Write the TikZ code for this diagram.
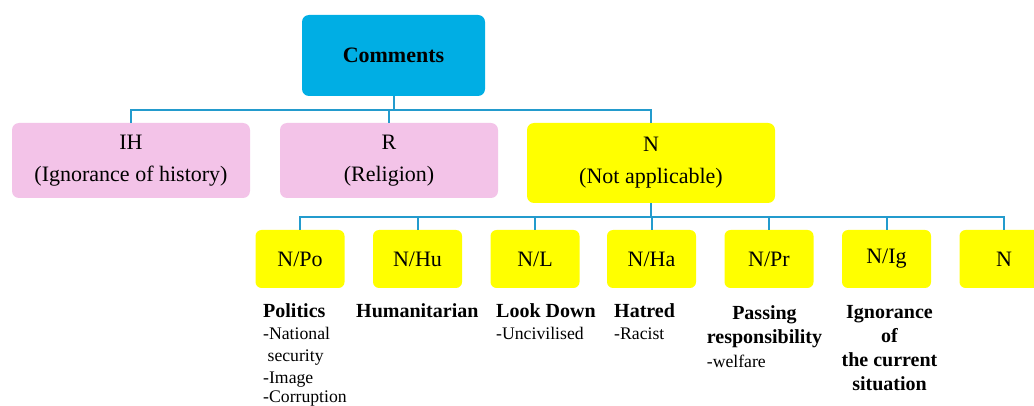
\documentclass[tikz,border=0pt]{standalone}
\usepackage{fontspec}
\setmainfont{Liberation Serif}
\usetikzlibrary{positioning}

\definecolor{topblue}{RGB}{0,174,228}
\definecolor{catpink}{RGB}{243,195,232}
\definecolor{catyellow}{RGB}{255,255,0}
\definecolor{linkblue}{RGB}{35,155,205}

\tikzset{
  box/.style={rounded corners=7pt, inner sep=0pt, align=center,
    font=\fontsize{22}{32}\selectfont},
  cat/.style={box, minimum height=75pt},
  sub/.style={box, fill=catyellow, minimum width=89pt, minimum height=58pt,
    rounded corners=6pt},
  link/.style={draw=linkblue, line width=2pt},
  note/.style={inner sep=0pt, anchor=north west, align=left,
    font=\fontsize{17.7}{22}\selectfont},
  head/.style={inner sep=0pt, anchor=north, align=center,
    font=\fontsize{20}{24}\selectfont\bfseries}
}

\begin{document}
\begin{tikzpicture}[x=1pt,y=-1pt]
\useasboundingbox (0,0) rectangle (1034,406);

% top level
\node[box, fill=topblue, minimum width=183pt, minimum height=81pt,
  font=\fontsize{22}{26}\selectfont\bfseries] (com) at (393.5,55.5) {Comments};

\node[cat, fill=catpink, minimum width=238pt] (ih) at (131,160.5) {IH\\(Ignorance of history)};
\node[cat, fill=catpink, minimum width=218pt] (rel) at (389,160.5) {R\\(Religion)};
\node[cat, fill=catyellow, minimum width=248pt, minimum height=80pt] (na) at (651,163) {N\\(Not applicable)};

\draw[link] (com.south) -- ++(0,13.5) coordinate (j1);
\draw[link] (ih.north) |- (j1);
\draw[link] (rel.north) |- (j1);
\draw[link] (na.north) |- (j1);

% second level
\node[sub] (po) at (300,259) {N/Po};
\node[sub] (hu) at (417.5,259) {N/Hu};
\node[sub] (lo) at (535,259) {N/L};
\node[sub] (ha) at (651.5,259) {N/Ha};
\node[sub] (pr) at (769,259) {N/Pr};
\node[sub] (ig) at (886.5,259) {N/Ig};
\node[sub] (nn) at (1004,259) {N};

\draw[link] (na.south) -- ++(0,14) coordinate (j2);
\foreach \k in {po,hu,lo,ha,pr,ig,nn}
  \draw[link] (\k.north) |- (j2);

% descriptions
\node[note] (po-t) at (263,303) {{\fontsize{20}{22}\selectfont\bfseries Politics}\\
  -National\\ \ security\\ -Image\\[-3pt] -Corruption};
\node[note] (hu-t) at (356,303) {{\fontsize{20}{22}\selectfont\bfseries Humanitarian}};
\node[note] (lo-t) at (496,303) {{\fontsize{20}{22}\selectfont\bfseries Look Down}\\ -Uncivilised};
\node[note] (ha-t) at (614,303) {{\fontsize{20}{22}\selectfont\bfseries Hatred}\\ -Racist};
\node[head] (pr-t) at (764.5,305) {Passing\\ responsibility\\
  {\mdseries\fontsize{17.7}{24}\selectfont\rlap{-welfare}}\phantom{responsibility}};
\node[head] (ig-t) at (889.5,305) {Ignorance\\ of\\ the current\\ situation};

\end{tikzpicture}
\end{document}
